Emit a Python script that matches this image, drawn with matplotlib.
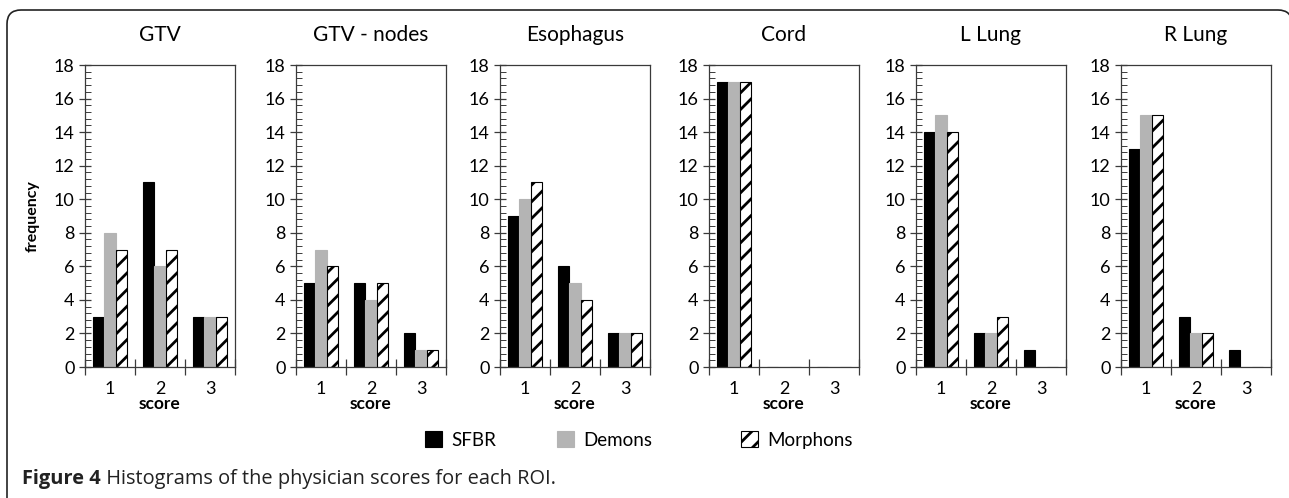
import matplotlib
matplotlib.use("Agg")
import matplotlib.pyplot as plt
from matplotlib.path import Path
import matplotlib.patches as patches
from matplotlib.ticker import MultipleLocator, FixedLocator, NullFormatter, FixedFormatter
import numpy as np

rois = ["GTV", "GTV - nodes", "Esophagus", "Cord", "L Lung", "R Lung"]
scores = [1, 2, 3]
methods = ["SFBR", "Demons", "Morphons"]

sfbr = [[3, 11, 3], [5, 5, 2], [9, 6, 2], [17, 0, 0], [14, 2, 1], [13, 3, 1]]
demons = [[8, 6, 3], [7, 4, 1], [10, 5, 2], [17, 0, 0], [15, 2, 0], [15, 2, 0]]
morphons = [[7, 7, 3], [6, 5, 1], [11, 4, 2], [17, 0, 0], [14, 3, 0], [15, 2, 0]]

plt.rcParams['font.family'] = ['Lato', 'DejaVu Sans']
plt.rcParams['hatch.linewidth'] = 2.0

W, H = 1289, 498
fig = plt.figure(figsize=(W / 100, H / 100), dpi=100)

lefts = [85, 296, 500, 709, 916, 1121]
ax_w, ax_top, ax_bot = 150, 65, 367

styles = [
    dict(color="black", edgecolor="black"),
    dict(color="#b4b4b4", edgecolor="#b4b4b4"),
    dict(facecolor="white", edgecolor="black", hatch="//"),
]
bw = 0.23
spine_c = "#3a3a3a"
handles = []
for i, roi in enumerate(rois):
    ax = fig.add_axes([lefts[i] / W, (H - ax_bot) / H, ax_w / W, (ax_bot - ax_top) / H])
    x = np.array(scores, dtype=float)
    series = [sfbr[i], demons[i], morphons[i]]
    for k, (vals, st) in enumerate(zip(series, styles)):
        b = ax.bar(x + (k - 1) * bw, vals, width=bw, linewidth=0.8, label=methods[k], **st)
        if i == 0:
            handles.append(b)
    ax.set_xlim(0.5, 3.5)
    ax.set_ylim(0, 18)
    ax.yaxis.set_major_locator(MultipleLocator(2))
    ax.yaxis.set_minor_locator(MultipleLocator(0.4))
    ax.tick_params(axis="y", which="major", direction="inout", length=9, width=0.9,
                   color=spine_c, labelsize=13, pad=3)
    ax.tick_params(axis="y", which="minor", direction="in", length=4, width=0.7, color=spine_c)
    ax.xaxis.set_major_locator(FixedLocator([0.5, 1.5, 2.5, 3.5]))
    ax.xaxis.set_major_formatter(NullFormatter())
    ax.xaxis.set_minor_locator(FixedLocator(scores))
    ax.xaxis.set_minor_formatter(FixedFormatter([str(s) for s in scores]))
    ax.tick_params(axis="x", which="major", direction="inout", length=11, width=0.9, color=spine_c)
    ax.tick_params(axis="x", which="minor", length=0, labelsize=13, pad=10)
    for sp in ax.spines.values():
        sp.set_color(spine_c)
        sp.set_linewidth(0.9)
    ax.set_xlabel("score", fontsize=12.5, fontweight="bold", labelpad=-1)
    ax.set_title(roi, fontsize=15, pad=17)
    if i == 0:
        ax.set_ylabel("frequency", fontsize=11.5, fontweight="bold", labelpad=10)

# one legend entry per method, placed like the original
legend_x = [425, 557, 741]
for hnd, name, lx in zip(handles, methods, legend_x):
    fig.legend(handles=[hnd], labels=[name], loc="center left",
               bbox_to_anchor=(lx / W, 1 - 440 / H), frameon=False, fontsize=13.5,
               handlelength=0.9, handleheight=0.9, handletextpad=0.5,
               borderpad=0, borderaxespad=0)

# outer rounded frame: left edge and top edge, corner on the right cut by the image border
r = 14
px = lambda xp, yp: (xp / W, 1 - yp / H)
verts = [px(7, H + 5), px(7, 10 + r), px(7, 10), px(7 + r, 10),
         px(1278, 10), px(1278 + r, 10), px(1278 + r, 10 + r)]
codes = [Path.MOVETO, Path.LINETO, Path.CURVE3, Path.CURVE3,
         Path.LINETO, Path.CURVE3, Path.CURVE3]
frame = patches.PathPatch(Path(verts, codes), transform=fig.transFigure, facecolor="none",
                          edgecolor="#222222", linewidth=1.2)
fig.add_artist(frame)

cap_font = ["Open Sans", "DejaVu Sans"]
t1 = fig.text(22 / W, 1 - 484 / H, "Figure 4", fontsize=14.4, fontweight="bold",
              family=cap_font, va="baseline", color="#222222")
fig.axes[0].annotate(" Histograms of the physician scores for each ROI.", xy=(1, 0), xycoords=t1,
                     va="bottom", ha="left", fontsize=14.4, family=cap_font,
                     color="#222222", annotation_clip=False)

fig.savefig("out.png", dpi=100)
